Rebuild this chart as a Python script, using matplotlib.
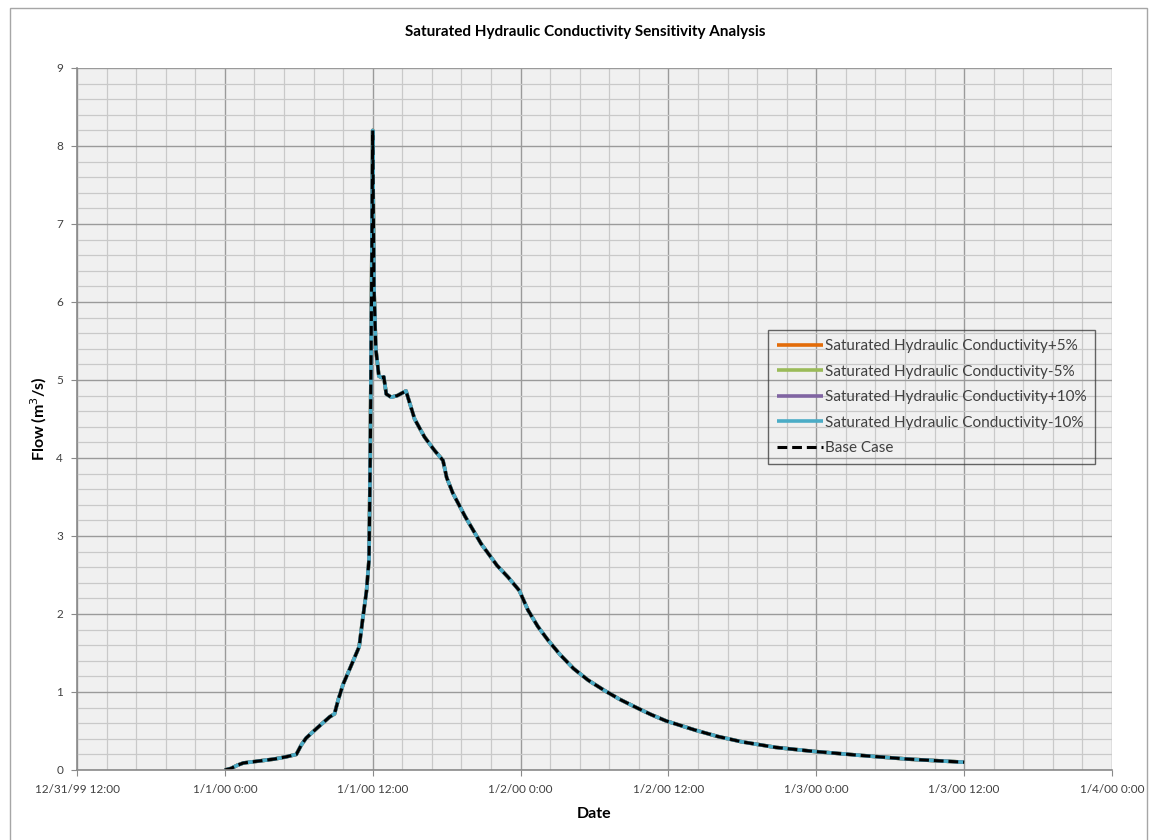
import matplotlib
matplotlib.use("Agg")
import matplotlib.pyplot as plt
import matplotlib.dates as mdates
from matplotlib.ticker import FuncFormatter, MultipleLocator
from matplotlib.patches import Rectangle
import pandas as pd

# ---- data ----
start = pd.Timestamp("2000-01-01 00:00")
hours = [0.0, 0.5, 1.0, 1.5, 2.0, 3.0, 4.0, 5.0, 5.8, 6.2, 6.6, 7.5, 8.5, 8.9,
         9.2, 9.6, 10.2, 10.9, 11.2, 11.5, 11.7, 11.8, 11.9, 12.0, 12.1, 12.25,
         12.5, 12.75, 12.9, 13.1, 13.5, 14.0, 14.7, 15.4, 16.2, 17.0, 17.7,
         18.0, 18.5, 19.5, 20.8, 22.1, 23.0, 23.9, 24.6, 25.4, 26.2, 27.2,
         28.3, 29.5, 30.8, 32.0, 33.4, 34.6, 35.8, 37.0, 38.2, 40.0, 42.0,
         44.7, 47.7, 51.4, 55.4, 60.0]
base_case = [0.0, 0.02, 0.06, 0.09, 0.10, 0.12, 0.14, 0.17, 0.20, 0.32, 0.41,
             0.54, 0.68, 0.72, 0.90, 1.10, 1.32, 1.58, 1.95, 2.30, 2.70, 4.0,
             6.0, 8.2, 6.2, 5.4, 5.05, 5.03, 5.04, 4.82, 4.78, 4.80, 4.86,
             4.50, 4.27, 4.10, 3.97, 3.75, 3.55, 3.25, 2.90, 2.62, 2.47, 2.30,
             2.05, 1.84, 1.67, 1.48, 1.30, 1.15, 1.02, 0.91, 0.80, 0.71, 0.63,
             0.57, 0.51, 0.43, 0.36, 0.29, 0.24, 0.19, 0.14, 0.10]
# sensitivity runs coincide with the base case at this scale
ksat_plus5 = list(base_case)
ksat_minus5 = list(base_case)
ksat_plus10 = list(base_case)
ksat_minus10 = list(base_case)

series_labels = ["Saturated Hydraulic Conductivity+5%",
                 "Saturated Hydraulic Conductivity-5%",
                 "Saturated Hydraulic Conductivity+10%",
                 "Saturated Hydraulic Conductivity-10%",
                 "Base Case"]
series_colors = ["#E36C09", "#9BBB59", "#8064A2", "#4BACC6", "black"]

times = [start + pd.Timedelta(hours=h) for h in hours]

# ---- figure ----
W, H = 1149, 840
fig = plt.figure(figsize=(W / 100, H / 100), dpi=100)
ax = fig.add_axes([77 / W, 1 - 770 / H, (1112 - 77) / W, (770 - 68) / H])
ax.set_facecolor("#f0f0f0")

font = ["Lato", "DejaVu Sans"]

for vals, lab, col in zip([ksat_plus5, ksat_minus5, ksat_plus10, ksat_minus10],
                          series_labels[:4], series_colors[:4]):
    ax.plot(times, vals, color=col, lw=2.6, label=lab, solid_capstyle="butt")
ax.plot(times, base_case, color="black", lw=2.2, ls=(0, (3.2, 1.6)),
        label=series_labels[4])

ax.set_xlim(pd.Timestamp("1999-12-31 12:00"), pd.Timestamp("2000-01-04 00:00"))
ax.set_ylim(0, 9)

ax.xaxis.set_major_locator(mdates.HourLocator(byhour=[0, 12]))
ax.xaxis.set_minor_locator(MultipleLocator(0.1))


def fmt(x, pos):
    d = mdates.num2date(x)
    return f"{d.month}/{d.day}/{d.year % 100:02d} {d.hour}:{d.minute:02d}"


ax.xaxis.set_major_formatter(FuncFormatter(fmt))
ax.yaxis.set_major_locator(MultipleLocator(1))
ax.yaxis.set_minor_locator(MultipleLocator(0.2))

ax.grid(which="major", color="#9a9a9a", lw=1.0)
ax.grid(which="minor", color="#c9c9c9", lw=0.9)
ax.set_axisbelow(True)

for s in ["top", "right"]:
    ax.spines[s].set_visible(False)
for s in ["left", "bottom"]:
    ax.spines[s].set_color("#8a8a8a")
    ax.spines[s].set_linewidth(1.2)

ax.tick_params(which="major", length=4, color="#8a8a8a", labelsize=8.5,
               labelcolor="#404040", pad=6)
ax.tick_params(which="minor", length=0)
for lab in ax.get_xticklabels() + ax.get_yticklabels():
    lab.set_family(font)

ax.set_xlabel("Date", fontsize=11.5, fontweight="bold", family=font, labelpad=9)
ax.set_ylabel("Flow (m$^3$/s)", fontsize=11.5, fontweight="bold", family=font,
              labelpad=5)
fig.text(585 / W, 1 - 32 / H, "Saturated Hydraulic Conductivity Sensitivity Analysis",
         ha="center", va="center", fontsize=11, fontweight="bold", family=font)

leg = ax.legend(loc="upper left", bbox_to_anchor=(768 / W, 1 - 330 / H),
                bbox_transform=fig.transFigure, frameon=True, fancybox=False,
                prop={"family": font, "size": 11}, handlelength=3.0,
                handletextpad=0.1, labelspacing=0.75, borderpad=0.6,
                borderaxespad=0)
leg.get_frame().set_edgecolor("#404040")
leg.get_frame().set_facecolor("none")
leg.get_frame().set_linewidth(1.0)
for t in leg.get_texts():
    t.set_color("#404040")

fig.patches.append(Rectangle((10 / W, -0.01), (1147 - 10) / W, 1 - 8 / H + 0.01,
                             transform=fig.transFigure, fill=False,
                             edgecolor="#a6a6a6", lw=1.0))

fig.savefig("out.png", dpi=100)
